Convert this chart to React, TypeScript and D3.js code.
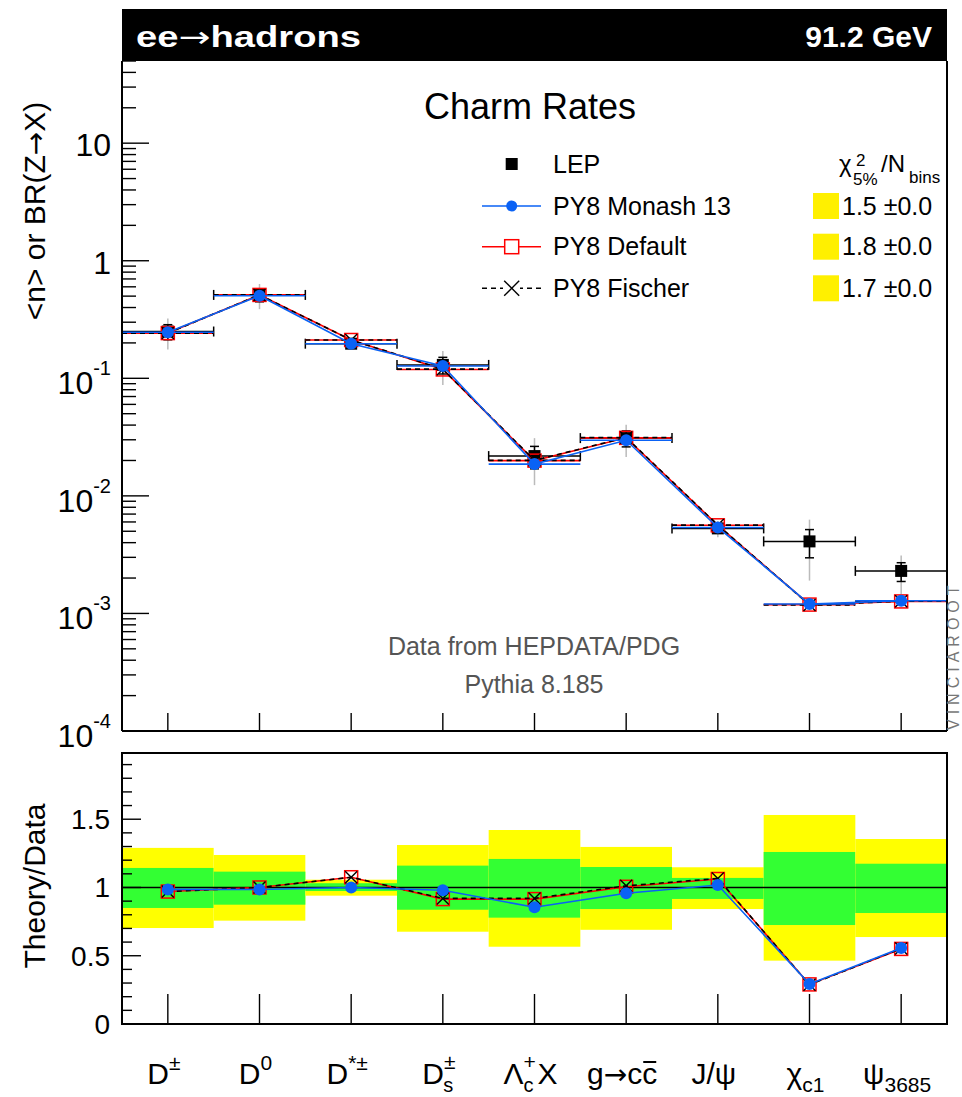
import React from 'react';
import * as d3 from 'd3';

// ---------- data ----------
const categories = ['Dpm', 'D0', 'Dstar', 'Ds', 'Lc', 'gcc', 'Jpsi', 'chic1', 'psi3685'];
const xTickLabels = [
  { base: 'D', sup: '±' },
  { base: 'D', sup: '0' },
  { base: 'D', sup: '*±' },
  { base: 'D', sup: '±', sub: 's' },
  { base: 'Λ', sup: '+', sub: 'c', after: 'X' },
  { base: 'g', arrow: true, base2: 'c', bar: 'c' },
  { base: 'J/ψ' },
  { base: 'χ', sub: 'c1' },
  { base: 'ψ', sub: '3685' },
];
const lepValues = [0.25, 0.512, 0.197, 0.13, 0.0218, 0.031, 0.00529, 0.0041, 0.0023];
// relative 1-sigma (green) and 2-sigma (yellow) uncertainties
const err1Up = [0.143, 0.116, 0.031, 0.16, 0.209, 0.15, 0.07, 0.26, 0.174];
const err1Dn = [0.15, 0.126, 0.026, 0.163, 0.221, 0.158, 0.084, 0.275, 0.187];
const err2Up = [0.29, 0.238, 0.057, 0.311, 0.421, 0.297, 0.148, 0.531, 0.355];
const err2Dn = [0.297, 0.243, 0.06, 0.324, 0.434, 0.31, 0.158, 0.536, 0.363];
const ratioMonash = [0.986, 0.985, 1.0, 0.98, 0.855, 0.958, 1.018, 0.293, 0.557];
const ratioDefault = [0.97, 1.0, 1.075, 0.915, 0.915, 1.005, 1.062, 0.29, 0.55];
const ratioFischer = [0.97, 1.0, 1.075, 0.92, 0.92, 1.012, 1.066, 0.288, 0.553];
const legendLabels = ['LEP', 'PY8 Monash 13', 'PY8 Default', 'PY8 Fischer'];
const chi2Values = ['1.5 ±0.0', '1.8 ±0.0', '1.7 ±0.0'];
const mainTickLabels = [
  { v: 1e-4, base: '10', exp: '-4' },
  { v: 1e-3, base: '10', exp: '-3' },
  { v: 1e-2, base: '10', exp: '-2' },
  { v: 1e-1, base: '10', exp: '-1' },
  { v: 1, base: '1' },
  { v: 10, base: '10' },
];
const ratioTickLabels = [0, 0.5, 1, 1.5];

// ---------- layout ----------
const W = 962, H = 1097;
const L = 122, R = 947, mT = 61, mB = 731, rT = 753, rB = 1024;
const FONT = "'Liberation Sans', Arial, Helvetica, sans-serif";
const ARROWFONT = "'DejaVu Sans', sans-serif";
const BLUE = '#0a62f5';
const RED = '#ff0000';

const x = d3.scaleBand<string>().domain(categories).range([L, R]).padding(0);
const cx = (i: number) => (x(categories[i]) as number) + x.bandwidth() / 2;
const x0 = (i: number) => x(categories[i]) as number;
const x1 = (i: number) => (x(categories[i]) as number) + x.bandwidth();
const yMain = d3.scaleLog().domain([1e-4, 50]).range([mB, mT]);
const yRat = d3.scaleLinear().domain([0, 1.985]).range([rB, rT]);

const mcMonash = lepValues.map((v, i) => v * ratioMonash[i]);
const mcDefault = lepValues.map((v, i) => v * ratioDefault[i]);
const mcFischer = lepValues.map((v, i) => v * ratioFischer[i]);

function Square({ x, y, s, fill, stroke }: any) {
  return <rect x={x - s / 2} y={y - s / 2} width={s} height={s} fill={fill} stroke={stroke} strokeWidth={1.5} />;
}
function Cross({ x, y, s }: any) {
  const h = s / 2;
  return (
    <g stroke="#000" strokeWidth={1.4}>
      <line x1={x - h} y1={y - h} x2={x + h} y2={y + h} />
      <line x1={x - h} y1={y + h} x2={x + h} y2={y - h} />
    </g>
  );
}

type Series = { vals: number[]; color: string; dash?: string; kind: 'circle' | 'square' | 'cross' };

function Marker({ kind, x, y }: any) {
  if (kind === 'circle') return <circle cx={x} cy={y} r={6} fill={BLUE} />;
  if (kind === 'square') return <Square x={x} y={y} s={13} fill="none" stroke={RED} />;
  return <Cross x={x} y={y} s={12} />;
}

function McMain({ s }: { s: Series }) {
  const line = d3.line<number>().x((_, i) => cx(i)).y((d) => yMain(d));
  return (
    <g>
      {s.vals.map((v, i) => (
        <line key={'h' + i} x1={x0(i)} x2={x1(i)} y1={yMain(v)} y2={yMain(v)} stroke={s.color} strokeWidth={1.6} strokeDasharray={s.dash} />
      ))}
      <path d={line(s.vals) as string} fill="none" stroke={s.color} strokeWidth={1.6} strokeDasharray={s.dash} />
      {s.vals.map((v, i) => <Marker key={'m' + i} kind={s.kind} x={cx(i)} y={yMain(v)} />)}
    </g>
  );
}
function McRatio({ vals, s }: { vals: number[]; s: Series }) {
  const line = d3.line<number>().x((_, i) => cx(i)).y((d) => yRat(d));
  return (
    <g>
      <path d={line(vals) as string} fill="none" stroke={s.color} strokeWidth={1.6} strokeDasharray={s.dash} />
      {vals.map((v, i) => <Marker key={'m' + i} kind={s.kind} x={cx(i)} y={yRat(v)} />)}
    </g>
  );
}

const FS = 30; // label font size
const SS = 21; // sub/superscript size

function XLabel({ spec, x, y }: any) {
  if (spec.arrow) {
    // g -> c cbar : widths from Arial-metric glyph advances
    const wG = 0.556 * FS, wA = 0.838 * 28, wC = 0.5 * FS;
    const total = wG + wA + 2 * wC;
    const xs = x - total / 2;
    const xb = xs + wG + wA + wC;
    return (
      <g>
        <text x={xs} y={y} fontSize={FS} fill="#000">
          {spec.base}
          <tspan fontFamily={ARROWFONT} fontSize={28}>→</tspan>
          {spec.base2}
          {spec.bar}
        </text>
        <line x1={xb + 1} x2={xb + wC - 1} y1={y - 22} y2={y - 22} stroke="#000" strokeWidth={2} />
      </g>
    );
  }
  const parts: any[] = [<tspan key="b">{spec.base}</tspan>];
  if (spec.sup && spec.sub) {
    parts.push(<tspan key="sp" dy={-15} fontSize={SS}>{spec.sup}</tspan>);
    parts.push(<tspan key="sb" dx={-0.584 * SS} dy={23} fontSize={20}>{spec.sub}</tspan>);
    if (spec.after) parts.push(<tspan key="a" dx={4} dy={-8}>{spec.after}</tspan>);
  } else if (spec.sup) {
    parts.push(<tspan key="sp" dy={-14} fontSize={SS}>{spec.sup}</tspan>);
  } else if (spec.sub) {
    parts.push(<tspan key="sb" dy={8} fontSize={SS}>{spec.sub}</tspan>);
  }
  return (
    <text x={x} y={y} fontSize={FS} textAnchor="middle" fill="#000">
      {parts}
    </text>
  );
}

export default function App() {
  const mainTicks = yMain.ticks();
  const ratTicks = d3.range(0, 20).map((k) => k / 10).filter((v) => v <= 1.985);
  const series: Series[] = [
    { vals: mcDefault, color: RED, kind: 'square' },
    { vals: mcFischer, color: '#000', dash: '5,4', kind: 'cross' },
    { vals: mcMonash, color: BLUE, kind: 'circle' },
  ];
  const ratios = [ratioDefault, ratioFischer, ratioMonash];
  const legY = [164, 206, 246.7, 288.3];

  return (
    <svg width={W} height={H} style={{ position: 'absolute', left: 0, top: 0, display: 'block', background: '#fff' }} fontFamily={FONT}>
      {/* header */}
      <rect x={L} y={9} width={R - L} height={mT - 9} fill="#000" />
      <text x={136} y={47} fill="#fff" fontSize={29} fontWeight="bold" textLength={225} lengthAdjust="spacingAndGlyphs">
        ee<tspan fontWeight="normal" fontFamily={ARROWFONT}>→</tspan>hadrons
      </text>
      <text x={932} y={47} fill="#fff" fontSize={30} fontWeight="bold" textAnchor="end">91.2 GeV</text>

      {/* ---------- main panel ---------- */}
      {lepValues.map((v, i) => (
        <line key={'g' + i} x1={cx(i)} x2={cx(i)} y1={yMain(v * (1 + err2Up[i]))} y2={yMain(v * (1 - err2Dn[i]))} stroke="#bbb" strokeWidth={1.5} />
      ))}
      {lepValues.map((v, i) => {
        const yy = yMain(v);
        const yu = yMain(v * (1 + err1Up[i]));
        const yd = yMain(v * (1 - err1Dn[i]));
        return (
          <g key={'d' + i} stroke="#000" strokeWidth={1.5}>
            <line x1={x0(i)} x2={x1(i)} y1={yy} y2={yy} />
            <line x1={x0(i)} x2={x0(i)} y1={yy - 5} y2={yy + 5} />
            <line x1={x1(i)} x2={x1(i)} y1={yy - 5} y2={yy + 5} />
            <line x1={cx(i)} x2={cx(i)} y1={yu} y2={yd} />
            <line x1={cx(i) - 4.5} x2={cx(i) + 4.5} y1={yu} y2={yu} />
            <line x1={cx(i) - 4.5} x2={cx(i) + 4.5} y1={yd} y2={yd} />
            <rect x={cx(i) - 6} y={yy - 6} width={12} height={12} fill="#000" stroke="none" />
          </g>
        );
      })}
      {series.map((s, k) => <McMain key={k} s={s} />)}

      {/* main axes */}
      <g stroke="#000">
        <line x1={L} x2={L} y1={mT} y2={mB} strokeWidth={2} />
        <line x1={L} x2={R} y1={mB} y2={mB} strokeWidth={2} />
        <line x1={R} x2={R} y1={mT} y2={mB} strokeWidth={2} />
        {mainTicks.map((t, i) => {
          const major = Math.abs(Math.log10(t) - Math.round(Math.log10(t))) < 1e-6;
          return <line key={i} x1={L} x2={L + (major ? 27 : 14)} y1={yMain(t)} y2={yMain(t)} strokeWidth={1.4} />;
        })}
        {categories.map((c, i) => (
          <line key={c} x1={cx(i)} x2={cx(i)} y1={mB} y2={mB - 18} strokeWidth={1.4} />
        ))}
      </g>
      {mainTickLabels.map((t, i) => (
        <text key={i} x={111} y={yMain(t.v) + (t.exp ? 16 : 13)} fontSize={32} textAnchor="end">
          {t.base}
          {t.exp && <tspan dy={-19} fontSize={20}>{t.exp}</tspan>}
        </text>
      ))}
      <text transform={`translate(45,211) rotate(-90)`} fontSize={30} textAnchor="middle">
        {'<n> or BR(Z'}<tspan fontFamily={ARROWFONT} fontSize={28}>→</tspan>{'X)'}
      </text>

      {/* title and notes */}
      <text x={530} y={119} fontSize={36} textAnchor="middle">Charm Rates</text>
      <text x={534} y={655} fontSize={25} textAnchor="middle" fill="#555">Data from HEPDATA/PDG</text>
      <text x={534} y={693} fontSize={25} textAnchor="middle" fill="#555">Pythia 8.185</text>
      <text transform={`translate(959,730) rotate(-90)`} fontSize={16} fill="#777" letterSpacing={5}>VINCIAROOT</text>

      {/* legend */}
      <g>
        <rect x={511.7 - 6} y={legY[0] - 6} width={12} height={12} fill="#000" />
        <line x1={482} x2={541} y1={legY[1]} y2={legY[1]} stroke={BLUE} strokeWidth={1.6} />
        <circle cx={511.7} cy={legY[1]} r={5.5} fill={BLUE} />
        <line x1={482} x2={541} y1={legY[2]} y2={legY[2]} stroke={RED} strokeWidth={1.6} />
        <Square x={511.7} y={legY[2]} s={14} fill="#fff" stroke={RED} />
        <line x1={482} x2={541} y1={legY[3]} y2={legY[3]} stroke="#000" strokeWidth={1.4} strokeDasharray="5,4" />
        <rect x={503} y={legY[3] - 8} width={17} height={16} fill="#fff" />
        <Cross x={511.7} y={legY[3]} s={15} />
        {legendLabels.map((l, i) => (
          <text key={l} x={553} y={legY[i] + 8.5} fontSize={25}>{l}</text>
        ))}
        <text x={839} y={172} fontSize={24}>χ</text>
        <text x={856} y={166} fontSize={17}>2</text>
        <text x={853} y={185} fontSize={17}>5%</text>
        <text x={881} y={172} fontSize={24}>/N</text>
        <text x={909} y={183} fontSize={17}>bins</text>
        {chi2Values.map((c, i) => (
          <g key={c}>
            <rect x={813} y={legY[i + 1] - 13} width={26} height={26} fill="#fff000" />
            <text x={842} y={legY[i + 1] + 8.5} fontSize={25}>{c}</text>
          </g>
        ))}
      </g>

      {/* ---------- ratio panel ---------- */}
      {lepValues.map((_, i) => (
        <g key={'b' + i}>
          <rect x={x0(i)} width={x.bandwidth()} y={yRat(1 + err2Up[i])} height={yRat(1 - err2Dn[i]) - yRat(1 + err2Up[i])} fill="#ffff00" />
          <rect x={x0(i)} width={x.bandwidth()} y={yRat(1 + err1Up[i])} height={yRat(1 - err1Dn[i]) - yRat(1 + err1Up[i])} fill="#33ff33" />
        </g>
      ))}
      <line x1={L} x2={R} y1={yRat(1)} y2={yRat(1)} stroke="#000" strokeWidth={1.5} />
      {series.map((s, k) => <McRatio key={k} vals={ratios[k]} s={s} />)}
      <g stroke="#000">
        <rect x={L} y={rT} width={R - L} height={rB - rT} fill="none" strokeWidth={2} />
        {ratTicks.map((t, i) => {
          const major = Math.abs(t * 2 - Math.round(t * 2)) < 1e-6;
          return <line key={i} x1={L} x2={L + (major ? 19 : 10)} y1={yRat(t)} y2={yRat(t)} strokeWidth={1.4} />;
        })}
        {categories.map((c, i) => (
          <line key={c} x1={cx(i)} x2={cx(i)} y1={rB} y2={rB - 30} strokeWidth={1.4} />
        ))}
      </g>
      {ratioTickLabels.map((t) => (
        <text key={t} x={110} y={yRat(t) + 10} fontSize={28} textAnchor="end">{String(t)}</text>
      ))}
      <text transform={`translate(45,886) rotate(-90)`} fontSize={30} textAnchor="middle">Theory/Data</text>

      {/* x labels */}
      {xTickLabels.map((spec, i) => (
        <XLabel key={i} spec={spec} x={cx(i) - 4} y={1084} />
      ))}
    </svg>
  );
}
